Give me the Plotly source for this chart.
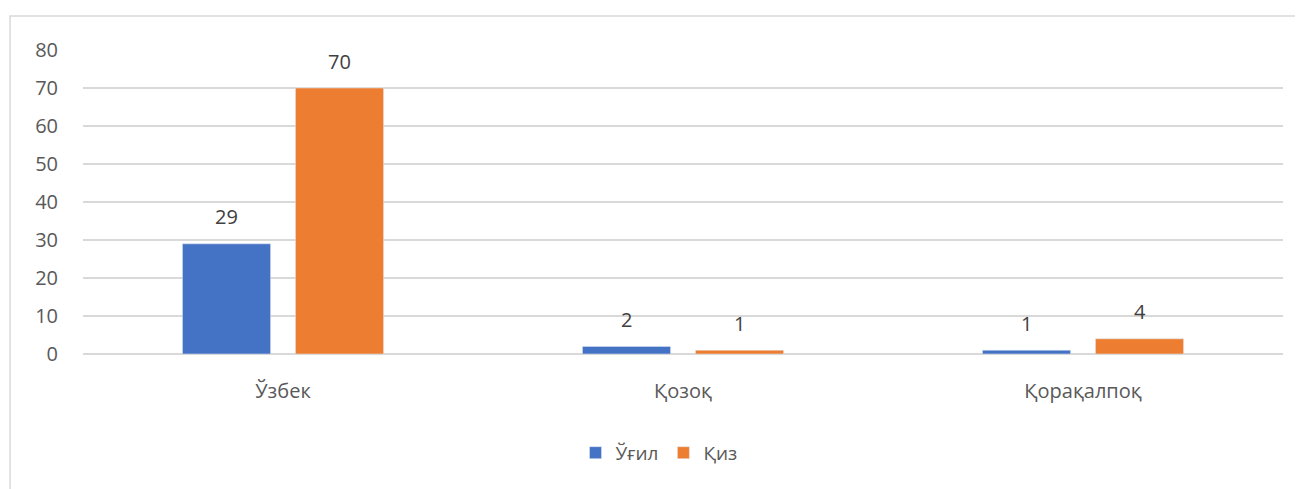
import plotly.graph_objects as go

categories = ["Ўзбек", "Қозоқ", "Қорақалпоқ"]
boys = [29, 2, 1]
girls = [70, 1, 4]
series_names = ["Ўғил", "Қиз"]
y_ticks = [0, 10, 20, 30, 40, 50, 60, 70, 80]

BLUE = "#4472C4"
ORANGE = "#ED7D31"
FONT = "Open Sans"

fig = go.Figure()
fig.add_trace(go.Bar(x=categories, y=boys, name=series_names[0], marker_color=BLUE))
fig.add_trace(go.Bar(x=categories, y=girls, name=series_names[1], marker_color=ORANGE))

ann = []
for vals, shift in ((boys, -56.5), (girls, 56.5)):
    for c, v in zip(categories, vals):
        ann.append(dict(x=c, y=v, xref="x", yref="y", text=str(v), showarrow=False,
                        xshift=shift, yshift=27, yanchor="middle",
                        font=dict(family=FONT, size=20, color="#404040")))

fig.update_layout(
    width=1295, height=481,
    margin=dict(l=75, r=20, t=42, b=135),
    paper_bgcolor="white", plot_bgcolor="white",
    barmode="group", bargap=0.435, bargroupgap=0.22,
    font=dict(family=FONT, size=18, color="#595959"),
    annotations=ann,
    showlegend=True,
    legend=dict(orientation="h", x=0.48, xanchor="center", y=-0.325, yanchor="middle",
                font=dict(family=FONT, size=19, color="#595959"), itemwidth=30,
                traceorder="normal"),
    shapes=[dict(type="rect", xref="paper", yref="paper", x0=-0.0608, x1=1.2,
                 y0=-0.6, y1=1.112, line=dict(color="#D9D9D9", width=1.5),
                 fillcolor="rgba(0,0,0,0)")],
)
fig.update_xaxes(showgrid=False, showline=False, ticks="", ticklabelstandoff=23,
                 tickfont=dict(family=FONT, size=20, color="#595959"))
fig.update_yaxes(range=[0, 80], tickvals=y_ticks, showgrid=True, gridcolor="#D9D9D9",
                 gridwidth=1.5, zeroline=True, zerolinecolor="#D9D9D9", zerolinewidth=1.5,
                 showline=False, ticks="", ticklabelstandoff=24,
                 tickfont=dict(family=FONT, size=20, color="#595959"))

fig.write_html("out.html")
